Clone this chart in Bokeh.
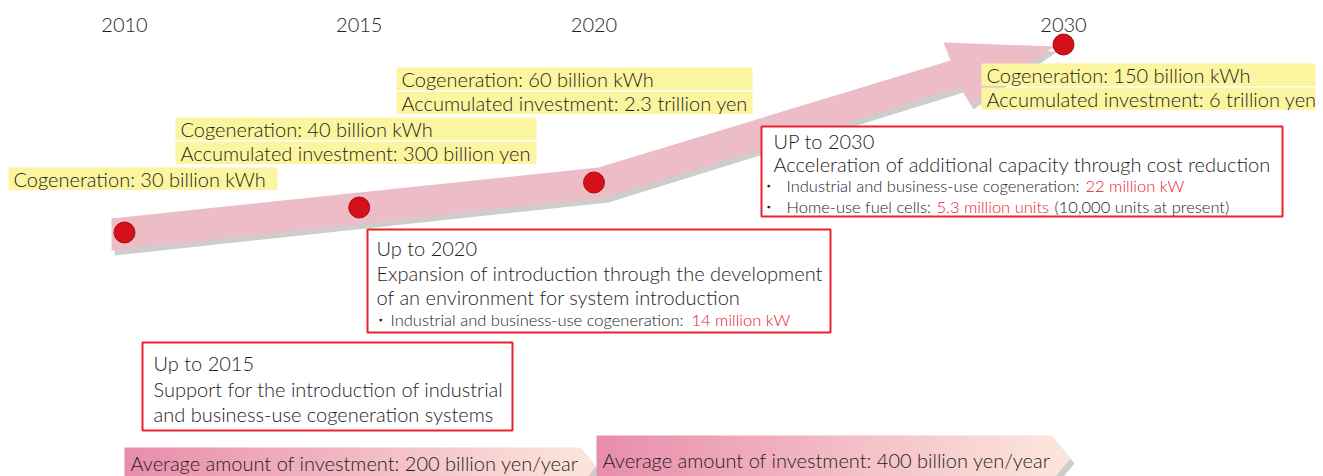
import numpy as np
from bokeh.plotting import figure
from bokeh.models import Range1d
from bokeh.core.properties import value
from bokeh.embed import file_html
from bokeh.resources import INLINE

# ---------------- data ----------------
years = [2010, 2015, 2020, 2030]
year_labels = ["2010", "2015", "2020", "2030"]
cogeneration_bkwh = [30, 40, 60, 150]
accumulated_investment = [None, "300 billion yen", "2.3 trillion yen", "6 trillion yen"]
avg_investment = ["200 billion yen/year", "400 billion yen/year"]
target_titles = ["Up to 2015", "Up to 2020", "UP to 2030"]
target_body = [
    ["Support for the introduction of industrial", "and business-use cogeneration systems"],
    ["Expansion of introduction through the development", "of an environment for system introduction"],
    ["Acceleration of additional capacity through cost reduction"],
]
target_bullets = [
    [],
    [("Industrial and business-use cogeneration: ", "14 million kW", "")],
    [("Industrial and business-use cogeneration: ", "22 million kW", ""),
     ("Home-use fuel cells: ", "5.3 million units", "(10,000 units at present)")],
]

# ---------------- style / layout ----------------
FONT = value("Lato Light, Lato")
TXT = "#1e1e1e"
RED = "#e8232d"
RED_TXT = "#e8202c"
YEL = "#fcf59f"
BAND = "#ecbcc7"
SHADOW = "#cdcdcd"
DOT = "#d4101b"

def year_x(yr):
    return 124 + (yr - 2010) * 46.95

dot_y = [232, 207, 182, 44]
year_label_y = 24

ybox_left = [8, 175, 396, 981]
ybox_right = [277, 536, 752, 1315]
ybox_top = [167, 117, 67, 63]
ybox_h = 22.5
ybox_gap = 1.5

rbox = [(142, 512, 342, 430), (367, 830, 229, 332), (761, 1282, 126, 216)]
rbox_text_x = [153, 376, 773]
rbox_line_y = [[362, 388, 413], [247, 272, 296], [140, 163]]
bullet_dot_x = [None, 380, 768]
bullet_text_x = [None, 390, 786]
bullet_y = [[], [319], [185, 206]]
bullet_red_x = [[], [691], [1085, 936]]
bullet_after_x = [[], [None], [None, 1054]]

MAIN_FS = "20px"
SMALL_FS = "16.5px"

W, H = 1323, 476
p = figure(width=W, height=H, x_range=Range1d(0, W), y_range=Range1d(H, 0),
           output_backend="svg", toolbar_location=None, min_border=0,
           outline_line_color=None, background_fill_color="white")
p.axis.visible = False
p.grid.visible = False

def txt(x, y, s, size=MAIN_FS, color=TXT, align="left"):
    p.text(x=[x], y=[y], text=[s], text_font=FONT, text_font_size=size,
           text_color=color, text_baseline="middle", text_align=align)

# ---------------- big arrow ----------------
arrow_x = [111, 598, 950, 943, 1054, 970, 960, 605, 111]
arrow_y = [218, 167, 60, 42, 46, 104, 87, 197, 250]
p.patch([x + 3 for x in arrow_x], [y + 5 for y in arrow_y], fill_color=SHADOW, line_color=None)
p.patch(arrow_x, arrow_y, fill_color=BAND, line_color=None)

# ---------------- year labels & dots ----------------
xs = [year_x(y) for y in years]
p.text(x=xs, y=[year_label_y] * 4, text=year_labels, text_font=FONT, text_font_size=MAIN_FS,
       text_color=TXT, text_baseline="middle", text_align="center")
p.scatter(xs, dot_y, marker="circle", size=21, fill_color=DOT, line_color="#a90a12", line_width=1)

# ---------------- yellow labels ----------------
for i in range(len(years)):
    lines = ["Cogeneration: %d billion kWh" % cogeneration_bkwh[i]]
    if accumulated_investment[i]:
        lines.append("Accumulated investment: " + accumulated_investment[i])
    for j, s in enumerate(lines):
        top = ybox_top[i] + j * (ybox_h + ybox_gap)
        p.quad(left=[ybox_left[i]], right=[ybox_right[i]], top=[top], bottom=[top + ybox_h],
               fill_color=YEL, line_color=None)
        txt(ybox_left[i] + 5, top + ybox_h / 2 + 0.5, s)

# ---------------- red bordered boxes ----------------
for k in range(3):
    l, r, t, b = rbox[k]
    p.quad(left=[l], right=[r], top=[t], bottom=[b], fill_color="white",
           line_color=RED, line_width=2)
    lines = [target_titles[k]] + target_body[k]
    for j, s in enumerate(lines):
        txt(rbox_text_x[k], rbox_line_y[k][j], s)
    for j, (pre, red, after) in enumerate(target_bullets[k]):
        yy = bullet_y[k][j]
        txt(bullet_dot_x[k], yy, "・", size=SMALL_FS, align="center")
        txt(bullet_text_x[k], yy, pre, size=SMALL_FS)
        txt(bullet_red_x[k][j], yy, red, size=SMALL_FS, color=RED_TXT)
        if after:
            txt(bullet_after_x[k][j], yy, after, size=SMALL_FS)

# ---------------- investment chevrons ----------------
chev = [dict(x0=124, x1=580, tip=595, top=447, bot=486, tipy=466, tx=130, ty=462),
        dict(x0=596, x1=1051, tip=1070, top=435, bot=481, tipy=458, tx=602, ty=459)]
c_left = np.array([232, 141, 171])
c_right = np.array([252, 228, 219])

def hexc(c):
    return "#%02x%02x%02x" % tuple(int(round(v)) for v in c)

for k, c in enumerate(chev):
    sx = [c["x0"], c["x1"], c["tip"], c["x1"], c["x0"]]
    sy = [c["top"], c["top"], c["tipy"], c["bot"], c["bot"]]
    p.patch([x + 4 for x in sx], [y + 5 for y in sy], fill_color=SHADOW, line_color=None)
    n = 90
    edges = np.linspace(c["x0"], c["x1"], n + 1)
    cols = [hexc(c_left + (c_right - c_left) * (i + 0.5) / n) for i in range(n)]
    p.quad(left=edges[:-1], right=edges[1:] + 0.6, top=[c["top"]] * n, bottom=[c["bot"]] * n,
           fill_color=cols, line_color=None)
    p.patch([c["x1"], c["tip"], c["x1"]], [c["top"], c["tipy"], c["bot"]],
            fill_color=hexc(c_right), line_color=None)
    txt(c["tx"], c["ty"], "Average amount of investment: " + avg_investment[k])

open("out.html", "w").write(file_html(p, INLINE))
